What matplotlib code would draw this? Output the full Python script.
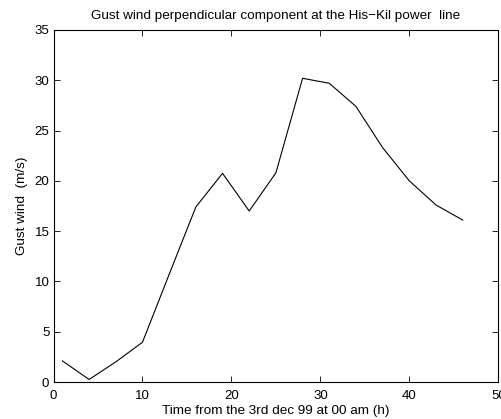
import numpy as np
import matplotlib
matplotlib.use('Agg')
import matplotlib.pyplot as plt

# gust wind perpendicular component, every 3 hours
hours = [1, 4, 7, 10, 13, 16, 19, 22, 25, 28, 31, 34, 37, 40, 43, 46]
gust = [2.1, 0.25, 2.0, 3.95, 10.7, 17.4, 20.75, 17.0, 20.8, 30.2, 29.7, 27.4, 23.3, 20.0, 17.6, 16.1]

plt.rcParams['font.family'] = ['Liberation Sans', 'DejaVu Sans']
fs = 9.7

fig = plt.figure(figsize=(5.01, 4.19), dpi=100)
ax = fig.add_axes([53.5/501, 1 - 382/419, (498.3 - 53.5)/501, (382 - 30)/419])

ax.plot(hours, gust, color='black', linewidth=0.8)

ax.set_xlim(0, 50)
ax.set_ylim(0, 35)
ax.set_xticks(np.arange(0, 51, 10))
ax.set_yticks(np.arange(0, 36, 5))
ax.tick_params(direction='in', length=4, width=0.6, top=True, right=True,
               labelsize=9.5)
ax.tick_params(axis='x', pad=6)
ax.tick_params(axis='y', pad=3)
for s in ax.spines.values():
    s.set_linewidth(0.8)

ax.set_title('Gust wind perpendicular component at the His\u2212Kil power  line',
             fontsize=fs, pad=8)
ax.set_xlabel('Time from the 3rd dec 99 at 00 am (h)', fontsize=fs, labelpad=2)
ax.set_ylabel('Gust wind  (m/s)', fontsize=fs, labelpad=5)

fig.savefig('out.png', dpi=100)
